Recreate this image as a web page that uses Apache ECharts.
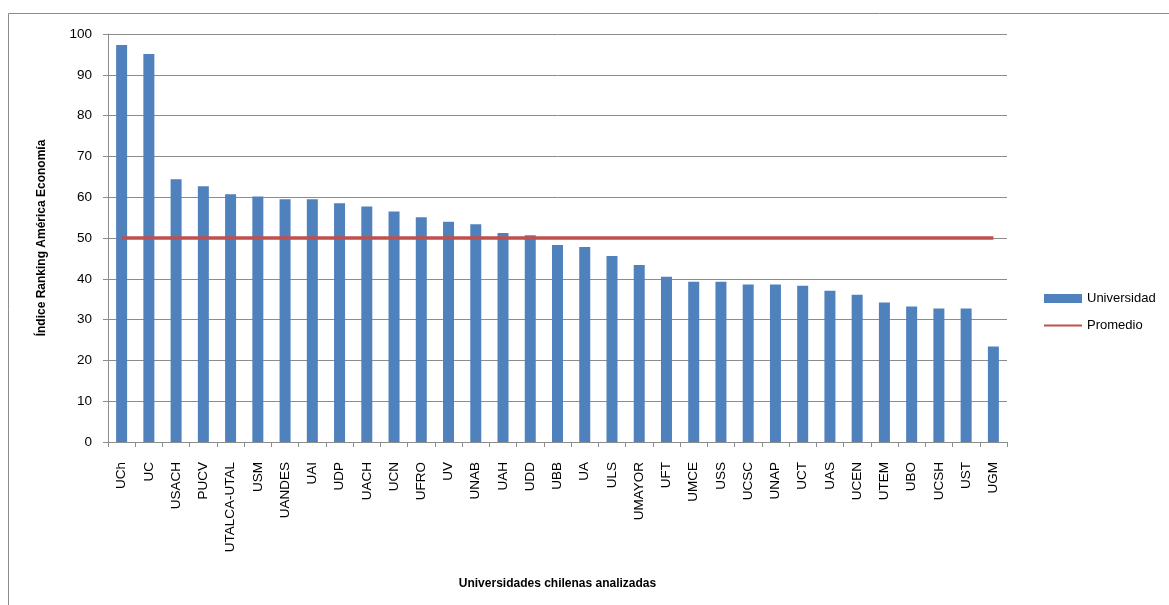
<!DOCTYPE html>
<html>
<head>
<meta charset="utf-8">
<script src="https://cdn.jsdelivr.net/npm/echarts@6/dist/echarts.min.js"></script>
<style>
html,body{margin:0;padding:0;background:#fff;}
#chart{width:1169px;height:605px;}
</style>
</head>
<body>
<div id="chart"></div>
<script>
const categories = ['UCh','UC','USACH','PUCV','UTALCA-UTAL','USM','UANDES','UAI','UDP','UACH','UCN','UFRO','UV','UNAB','UAH','UDD','UBB','UA','ULS','UMAYOR','UFT','UMCE','USS','UCSC','UNAP','UCT','UAS','UCEN','UTEM','UBO','UCSH','UST','UGM'];
const universidad = [97.3,95.1,64.4,62.7,60.7,60.2,59.5,59.5,58.5,57.7,56.5,55.1,54.0,53.4,51.2,50.7,48.3,47.8,45.6,43.4,40.5,39.3,39.3,38.6,38.6,38.3,37.1,36.1,34.2,33.2,32.7,32.7,23.4];
const promedio = [50,50,50,50,50,50,50,50,50,50,50,50,50,50,50,50,50,50,50,50,50,50,50,50,50,50,50,50,50,50,50,50,50];
const yTicks = {min:0, max:100, interval:10};

const FONT = '"Liberation Sans", Arial, sans-serif';
const chart = echarts.init(document.getElementById('chart'), null, {renderer:'canvas'});
chart.setOption({
  animation:false,
  backgroundColor:'#fff',
  graphic:[{
    type:'rect', left:6, top:11,
    shape:{x:0,y:0,width:1200,height:700},
    style:{fill:'none', stroke:'#8c8c8c', lineWidth:1}
  }],
  grid:{left:108, right:162, top:34, bottom:163, containLabel:false},
  legend:{
    orient:'vertical', left:1038, top:287, itemGap:14,
    itemWidth:38, itemHeight:9,
    textStyle:{fontFamily:FONT, fontSize:13, color:'#000'},
    data:[
      {name:'Universidad', icon:'rect'},
      {name:'Promedio', itemStyle:{opacity:0}}
    ]
  },
  xAxis:{
    type:'category', data:categories,
    name:'Universidades chilenas analizadas',
    nameLocation:'middle', nameGap:136,
    nameTextStyle:{fontFamily:FONT, fontSize:12, fontWeight:'bold', color:'#000'},
    axisLine:{lineStyle:{color:'#8c8c8c', width:1}},
    axisTick:{show:true, alignWithLabel:false, length:5, lineStyle:{color:'#8c8c8c'}},
    axisLabel:{rotate:90, margin:20, interval:0, fontFamily:FONT, fontSize:13.5, color:'#000'}
  },
  yAxis:{
    type:'value', min:yTicks.min, max:yTicks.max, interval:yTicks.interval,
    name:'Índice Ranking América Economía',
    nameLocation:'middle', nameGap:60, nameRotate:90,
    nameTextStyle:{fontFamily:FONT, fontSize:12, fontWeight:'bold', color:'#000'},
    axisLine:{show:true, lineStyle:{color:'#8c8c8c', width:1}},
    axisTick:{show:true, length:5, lineStyle:{color:'#8c8c8c'}},
    axisLabel:{margin:16, fontFamily:FONT, fontSize:13.5, color:'#000'},
    splitLine:{show:true, lineStyle:{color:'#8c8c8c', width:1}}
  },
  series:[
    {
      name:'Universidad', type:'bar', data:universidad,
      barWidth:11,
      itemStyle:{color:'#4F81BD'}
    },
    {
      name:'Promedio', type:'line', data:promedio,
      symbol:'none', showSymbol:false,
      lineStyle:{color:'#C0504D', width:3.5},
      itemStyle:{color:'#C0504D'},
      z:5
    }
  ]
});
</script>
</body>
</html>
